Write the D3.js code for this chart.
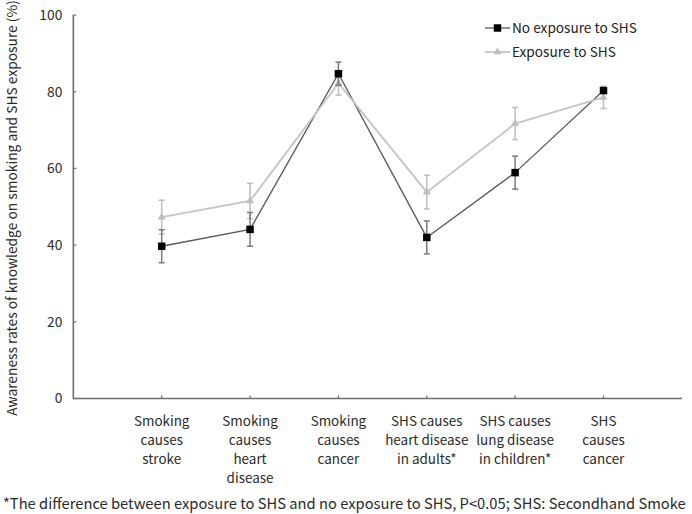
<!DOCTYPE html>
<html><head><meta charset="utf-8">
<script src="https://cdn.jsdelivr.net/npm/d3@7"></script>
<style>body{margin:0;background:#fff}svg{display:block}</style>
</head><body>
<svg id="c" width="692" height="514"></svg>
<script>
const categories = [
  ["Smoking","causes","stroke"],
  ["Smoking","causes","heart","disease"],
  ["Smoking","causes","cancer"],
  ["SHS causes","heart disease","in adults*"],
  ["SHS causes","lung disease","in children*"],
  ["SHS","causes","cancer"]
];
const noExposure    = [39.7, 44.1, 84.7, 42.0, 58.9, 80.3];
const noExposureErr = [4.3, 4.4, 3.0, 4.3, 4.3, 0.6];
const exposure      = [47.3, 51.5, 82.2, 53.8, 71.7, 78.5];
const exposureErr   = [4.4, 4.6, 3.1, 4.4, 4.2, 2.9];
const yTicks = [0, 20, 40, 60, 80, 100];
const seriesNames = ["No exposure to SHS", "Exposure to SHS"];
const yTitle = "Awareness rates of knowledge on smoking and SHS exposure (%)";
const footnote = "*The difference between exposure to SHS and no exposure to SHS, P<0.05; SHS: Secondhand Smoke";

const FONT = "'Noto Sans CJK KR', 'Noto Sans', sans-serif";
const svg = d3.select("#c");
const ids = categories.map((c,i)=>i);

const x = d3.scalePoint().domain(ids).range([161.7, 603.5]);
const step = x.step();
const y = d3.scaleLinear().domain([0,100]).range([398.5, 15]);

// measuring helper
const meas = svg.append("text").attr("font-family", FONT).attr("font-size", 100).attr("opacity",0);
function fit(text, w){ meas.text(text); return 100*w/meas.node().getComputedTextLength(); }

const axisColor = "#6e6e6e";
const textColor = "#2a2a2a";
// axes
const xAxisG = svg.append("g").attr("transform", `translate(0,${y(0)})`);
xAxisG.append("line").attr("x1", x(0)-step).attr("x2", 682).attr("stroke", axisColor).attr("stroke-width", 1.6);
xAxisG.selectAll("line.t").data(ids).join("line").attr("class","t")
  .attr("x1", d=>x(d)).attr("x2", d=>x(d)).attr("y1", 0).attr("y2", -3)
  .attr("stroke", axisColor).attr("stroke-width", 1.2);

const yAxisG = svg.append("g").attr("transform", `translate(${x(0)-step},0)`);
yAxisG.append("line").attr("y1", y(0)).attr("y2", y(100)).attr("stroke", axisColor).attr("stroke-width", 1.6);
yAxisG.selectAll("line.t").data(yTicks).join("line").attr("class","t")
  .attr("x1", 0).attr("x2", 3).attr("y1", d=>y(d)).attr("y2", d=>y(d))
  .attr("stroke", axisColor).attr("stroke-width", 1.2);

const numSize = fit("100", 23);
yAxisG.selectAll("text").data(yTicks).join("text")
  .attr("x", -11).attr("y", d=>y(d)).attr("dy","0.35em")
  .attr("text-anchor","end").attr("font-family",FONT).attr("font-size", numSize)
  .attr("fill",textColor).text(d=>d);

// category labels
const catSize = fit("Smoking", 55.6);
const catG = svg.append("g");
categories.forEach((lines,i)=>{
  const t = catG.append("text").attr("text-anchor","middle").attr("font-family",FONT)
    .attr("font-size", catSize).attr("fill",textColor);
  lines.forEach((ln,j)=>{
    t.append("tspan").attr("x", x(i)).attr("y", 421 + j*19).attr("dy","0.35em").text(ln);
  });
});

// y title
const titleSize = fit(yTitle, 416);
svg.append("text").attr("transform", "translate(12,208) rotate(-90)")
  .attr("text-anchor","middle").attr("dy","0.35em")
  .attr("font-family",FONT).attr("font-size", titleSize).attr("fill",textColor).text(yTitle);

// footnote
const footSize = fit(footnote, 683);
svg.append("text").attr("x", 3).attr("y", 504).attr("dy","0.35em")
  .attr("font-family",FONT).attr("font-size", footSize).attr("fill",textColor).text(footnote);

// series
const series = [
  {name: seriesNames[0], vals: noExposure, err: noExposureErr, line:"#5a5a5a", lw:1.3, errc:"#7a7a7a", marker:"square", mc:"#000"},
  {name: seriesNames[1], vals: exposure, err: exposureErr, line:"#c4c4c4", lw:1.8, errc:"#bdbdbd", marker:"triangle", mc:"#bdbdbd"}
];
const lineGen = d3.line().x((d,i)=>x(i)).y(d=>y(d));
const symSq = d3.symbol().type(d3.symbolSquare).size(56);
const symTri = d3.symbol().type(d3.symbolTriangle).size(28);

series.forEach(s=>{
  svg.append("path").datum(s.vals).attr("d", lineGen).attr("fill","none")
    .attr("stroke", s.line).attr("stroke-width", s.lw);
});
series.slice().reverse().forEach(s=>{
  const g = svg.append("g");
  s.vals.forEach((v,i)=>{
    const cx = x(i), y1 = y(v + s.err[i]), y2 = y(v - s.err[i]);
    g.append("line").attr("x1",cx).attr("x2",cx).attr("y1",y1).attr("y2",y2).attr("stroke",s.errc).attr("stroke-width",1.5);
    g.append("line").attr("x1",cx-3).attr("x2",cx+3).attr("y1",y1).attr("y2",y1).attr("stroke",s.errc).attr("stroke-width",1.5);
    g.append("line").attr("x1",cx-3).attr("x2",cx+3).attr("y1",y2).attr("y2",y2).attr("stroke",s.errc).attr("stroke-width",1.5);
    g.append("path").attr("d", s.marker==="square"? symSq() : symTri())
      .attr("transform",`translate(${cx},${y(v)})`).attr("fill", s.mc);
  });
});

// legend
const legSize = fit(seriesNames[0], 125);
const leg = svg.append("g");
series.forEach((s,i)=>{
  const ly = 28 + i*24;
  leg.append("line").attr("x1",485).attr("x2",510).attr("y1",ly).attr("y2",ly).attr("stroke", s.line).attr("stroke-width", s.lw);
  leg.append("path").attr("d", s.marker==="square"? symSq() : symTri()).attr("transform",`translate(497.5,${ly})`).attr("fill", s.mc);
  leg.append("text").attr("x",512).attr("y",ly).attr("dy","0.35em").attr("font-family",FONT)
    .attr("font-size", legSize).attr("fill","#222").text(s.name);
});
meas.remove();
</script>
</body></html>
